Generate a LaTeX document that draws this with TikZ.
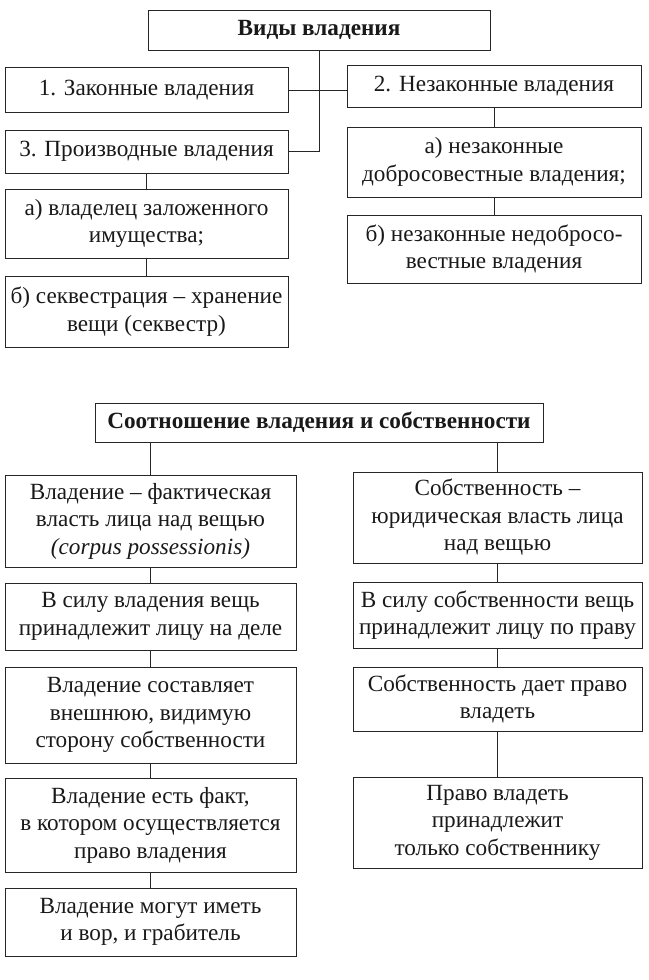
\documentclass[tikz,border=0pt]{standalone}
\usepackage{fontspec}
\setmainfont{Liberation Serif}
\usepackage{tikz}
\usetikzlibrary{positioning,calc}

\newcommand\boxfont{\fontsize{16.5}{19.5}\selectfont}
\newcommand\headfont{\fontsize{16.5}{19.5}\selectfont\bfseries}

\begin{document}
\begin{tikzpicture}[
  box/.style={draw=black!85, line width=0.6pt, align=center, inner sep=1pt,
              font=\boxfont, text=black!90},
  head/.style={box, font=\headfont},
  lcol/.style={box, minimum width=7.075cm},
  rcol/.style={box, minimum width=7.35cm},
  link/.style={draw=black!85, line width=0.6pt}
]
\useasboundingbox (0,0) rectangle (16.225,-24.5);

% Виды владения
\node[head, minimum width=8.55cm, minimum height=1.0cm] (vid) at (7.975,-0.75) {Виды владения};
\node[lcol, minimum height=1.125cm] (zak)   at (3.6625,-2.26)   {1. Законные владения};
\node[rcol, minimum height=1.05cm]  (nez)   at (12.35,-2.15)    {2. Незаконные владения};
\node[lcol, minimum height=1.075cm] (proiz) at (3.6625,-3.7875) {3. Производные владения};
\node[lcol, minimum height=1.725cm] (zalog) at (3.6625,-5.5875) {а) владелец заложенного\\имущества;};
\node[lcol, minimum height=1.775cm] (sekv)  at (3.6625,-7.7875) {б) секвестрация – хранение\\вещи (секвестр)};
\node[rcol, minimum height=1.75cm]  (dobro) at (12.35,-4.05)    {а) незаконные\\добросовестные владения;};
\node[rcol, minimum height=1.7cm]   (nedob) at (12.35,-6.225)   {б) незаконные недобросо-\\вестные владения};

\draw[link] (vid.south) -- (vid.south |- proiz.east) -- (proiz.east);
\draw[link] (zak.east) -- (zak.east -| nez.west);
\draw[link] (proiz.south) -- (zalog.north);
\draw[link] (zalog.south) -- (sekv.north);
\draw[link] (nez.south) -- (dobro.north);
\draw[link] (dobro.south) -- (nedob.north);

% Соотношение владения и собственности
\node[head, minimum width=11.2cm, minimum height=0.975cm] (sootn) at (7.975,-10.5625) {Соотношение владения и собственности};

\node[box, minimum width=7.275cm, minimum height=2.3cm]   (vl1) at (3.7625,-13.025)  {Владение – фактическая\\власть лица над вещью\\\textit{(corpus possessionis)}};
\node[box, minimum width=7.275cm, minimum height=1.675cm] (vl2) at (3.7625,-15.4125) {В силу владения вещь\\принадлежит лицу на деле};
\node[box, minimum width=7.275cm, minimum height=2.4cm]   (vl3) at (3.7625,-17.875)  {Владение составляет\\внешнюю, видимую\\сторону собственности};
\node[box, minimum width=7.275cm, minimum height=2.35cm]  (vl4) at (3.7625,-20.625)  {Владение есть факт,\\в котором осуществляется\\право владения};
\node[box, minimum width=7.275cm, minimum height=1.7cm]   (vl5) at (3.7625,-23.05)   {Владение могут иметь\\и вор, и грабитель};

\node[box, minimum width=7.225cm, minimum height=2.275cm] (sb1) at (12.4375,-12.9375) {Собственность –\\юридическая власть лица\\над вещью};
\node[box, minimum width=7.225cm, minimum height=1.65cm]  (sb2) at (12.4375,-15.375)  {В силу собственности вещь\\принадлежит лицу по праву};
\node[box, minimum width=7.225cm, minimum height=1.6cm]   (sb3) at (12.4375,-17.475)  {Собственность дает право\\владеть};
\node[box, minimum width=7.225cm, minimum height=2.275cm] (sb4) at (12.4375,-20.5625) {Право владеть\\принадлежит\\только собственнику};

\draw[link] (vl1.north |- sootn.south) -- (vl1.north);
\draw[link] (sb1.north |- sootn.south) -- (sb1.north);
\foreach \a/\b in {vl1/vl2, vl2/vl3, vl3/vl4, vl4/vl5, sb1/sb2, sb2/sb3, sb3/sb4}
  \draw[link] (\a.south) -- (\b.north);
\end{tikzpicture}
\end{document}
